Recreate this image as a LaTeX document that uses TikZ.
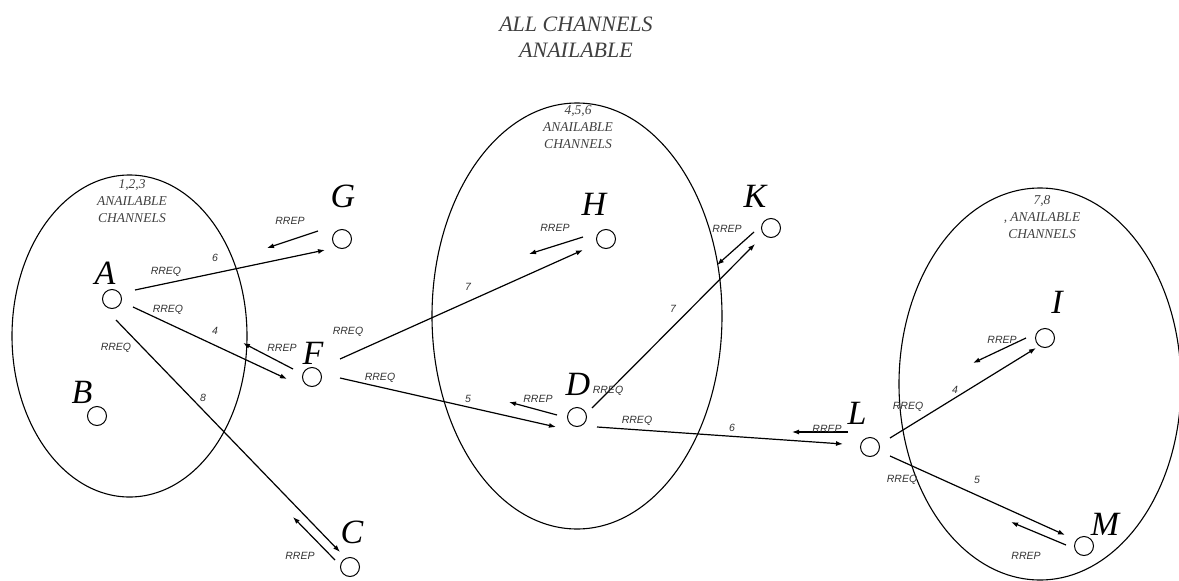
\documentclass[tikz,border=0pt]{standalone}
\usepackage{fontspec}
\setmainfont{Liberation Serif}
\newfontfamily\tagsans{Liberation Sans}
\usetikzlibrary{arrows.meta,calc}
\begin{document}
\begin{tikzpicture}[x=1pt,y=-1pt,
  nd/.style={circle,draw,line width=1pt,minimum size=19pt,inner sep=0pt},
  lbl/.style={font=\fontsize{34}{34}\selectfont\itshape,anchor=base,inner sep=0pt},
  tg/.style={font=\tagsans\itshape\fontsize{10.5}{10.5}\selectfont,inner sep=0pt,text=black!80},
  zone/.style={draw,line width=1.1pt},
  ztext/.style={font=\fontsize{13.5}{17}\selectfont\itshape,align=center,inner sep=0pt,text=black!75},
  req/.style={line width=1.2pt,-{Latex[length=7pt,width=5pt]}},
  rep/.style={line width=1.2pt,-{Latex[length=7pt,width=5pt]}}]
\useasboundingbox (0,0) rectangle (1179,581);
% title
\node[font=\fontsize{22}{26}\selectfont\itshape,align=center,text=black!75] (title) at (576,37) {ALL CHANNELS\\ANAILABLE};
% zones
\draw[zone] (129.5,336) ellipse [x radius=117.5, y radius=161];
\draw[zone] (577,316) ellipse [x radius=145, y radius=213];
\draw[zone] (1040,384) ellipse [x radius=141, y radius=196];
\node[ztext] (z1) at (132,201) {1,2,3\\ANAILABLE\\CHANNELS};
\node[ztext] (z2) at (578,127) {4,5,6\\ANAILABLE\\CHANNELS};
\node[ztext] (z3) at (1042,217) {7,8\\, ANAILABLE\\CHANNELS};
% nodes
\node[nd] (A) at (112,299) {};
\node[nd] (B) at (97,416) {};
\node[nd] (C) at (350,567) {};
\node[nd] (F) at (312,377) {};
\node[nd] (G) at (342,239) {};
\node[nd] (H) at (606,239) {};
\node[nd] (K) at (771,228) {};
\node[nd] (D) at (577,417) {};
\node[nd] (L) at (870,447) {};
\node[nd] (I) at (1045,338) {};
\node[nd] (M) at (1084,546) {};
% letters
\node[lbl] (lA) at (105,284) {A};
\node[lbl] (lB) at (82,403) {B};
\node[lbl] (lC) at (352,543) {C};
\node[lbl] (lF) at (313,364) {F};
\node[lbl] (lG) at (343,207) {G};
\node[lbl] (lH) at (594,215) {H};
\node[lbl] (lK) at (755,207) {K};
\node[lbl] (lD) at (578,395) {D};
\node[lbl] (lL) at (857,424) {L};
\node[lbl] (lI) at (1057,313) {I};
\node[lbl] (lM) at (1105,535) {M};
% RREQ connectors
\draw[req] ($(A)+(23,-9)$) -- ($(G)+(-17,11)$);
\draw[req] ($(A)+(21,8)$) -- ($(F)+(-25,2)$);
\draw[req] ($(A)+(4,21)$) -- ($(C)+(-10,-15)$);
\draw[req] ($(F)+(28,-18)$) -- ($(H)+(-23,11)$);
\draw[req] ($(F)+(28,1)$) -- ($(D)+(-21,10)$);
\draw[req] ($(D)+(15,-9)$) -- ($(K)+(-16,16)$);
\draw[req] ($(D)+(20,10)$) -- ($(L)+(-27,-3)$);
\draw[req] ($(L)+(20,-9)$) -- ($(I)+(-9,10)$);
\draw[req] ($(L)+(20,9)$) -- ($(M)+(-19,-11)$);
% RREP arrows
\coordinate (g1) at (318,231); \coordinate (g2) at (267,248);
\coordinate (f1) at (293,369); \coordinate (f2) at (243,343);
\coordinate (c1) at (335,560); \coordinate (c2) at (293,517);
\coordinate (h1) at (583,237); \coordinate (h2) at (529,254);
\coordinate (d1) at (557,415); \coordinate (d2) at (509,402);
\coordinate (k1) at (754,232); \coordinate (k2) at (717,265);
\coordinate (l1) at (848,432); \coordinate (l2) at (792,432);
\coordinate (i1) at (1026,338); \coordinate (i2) at (973,363);
\coordinate (m1) at (1066,545); \coordinate (m2) at (1011,522);
\draw[rep] (g1) -- (g2);
\draw[rep] (f1) -- (f2);
\draw[rep] (c1) -- (c2);
\draw[rep] (h1) -- (h2);
\draw[rep] (d1) -- (d2);
\draw[rep] (k1) -- (k2);
\draw[rep] (l1) -- (l2);
\draw[rep] (i1) -- (i2);
\draw[rep] (m1) -- (m2);
% tags
\node[tg] (t1) at (290,221) {RREP};
\node[tg] (t2) at (215,258) {6};
\node[tg] (t3) at (166,272) {RREQ};
\node[tg] (t4) at (168,310) {RREQ};
\node[tg] (t5) at (215,331) {4};
\node[tg] (t6) at (116,348) {RREQ};
\node[tg] (t7) at (282,348) {RREP};
\node[tg] (t8) at (348,332) {RREQ};
\node[tg] (t9) at (380,378) {RREQ};
\node[tg] (t10) at (203,398) {8};
\node[tg] (t11) at (300,556) {RREP};
\node[tg] (t12) at (468,287) {7};
\node[tg] (t13) at (555,228) {RREP};
\node[tg] (t14) at (727,229) {RREP};
\node[tg] (t15) at (673,309) {7};
\node[tg] (t16) at (468,399) {5};
\node[tg] (t17) at (538,399) {RREP};
\node[tg] (t18) at (608,391) {RREQ};
\node[tg] (t19) at (637,421) {RREQ};
\node[tg] (t20) at (732,428) {6};
\node[tg] (t21) at (827,429) {RREP};
\node[tg] (t22) at (908,407) {RREQ};
\node[tg] (t23) at (955,390) {4};
\node[tg] (t24) at (1002,340) {RREP};
\node[tg] (t25) at (902,480) {RREQ};
\node[tg] (t26) at (977,480) {5};
\node[tg] (t27) at (1026,556) {RREP};
\end{tikzpicture}
\end{document}
